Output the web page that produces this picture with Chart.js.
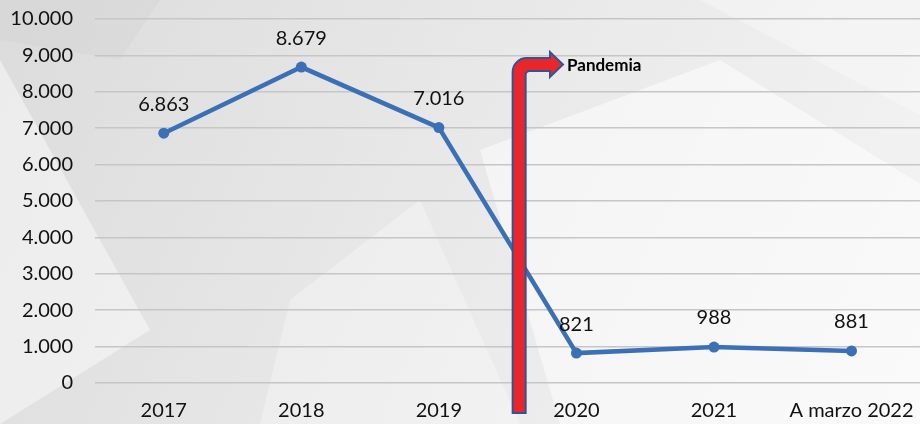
<!DOCTYPE html>
<html lang="es">
<head>
<meta charset="UTF-8">
<title>Pandemia</title>
<script src="https://cdn.jsdelivr.net/npm/chart.js"></script>
<style>
  html, body { margin: 0; padding: 0; }
  body {
    width: 920px; height: 424px; overflow: hidden;
    background: #ececec;
  }
  /* canvas is a bit wider than the window: the x axis keeps ~10px of label padding on the right */
  #wrap { position: relative; width: 920px; height: 424px; overflow: hidden; }
</style>
</head>
<body>
<div id="wrap"><canvas id="chart" width="930" height="424"></canvas></div>
<script>
const categories = ['2017', '2018', '2019', '2020', '2021', 'A marzo 2022'];
const values = [6863, 8679, 7016, 821, 988, 881];
const yTicks = [0, 1000, 2000, 3000, 4000, 5000, 6000, 7000, 8000, 9000, 10000];
const annotationText = 'Pandemia';

const FONT = 'Lato, "Open Sans", sans-serif';

function fmt(v) {
  return String(v).replace(/\B(?=(\d{3})+(?!\d))/g, '.');
}

// soft background shapes
const bgPlugin = {
  id: 'bg',
  beforeDraw(chart) {
    const c = chart.ctx;
    c.save();
    const g = c.createLinearGradient(0, 0, 920, 424);
    g.addColorStop(0, '#dcdcdc');
    g.addColorStop(0.5, '#e9e9e9');
    g.addColorStop(1, '#f4f4f4');
    c.fillStyle = g;
    c.fillRect(0, 0, 930, 424);
    const polys = [
      ['rgba(255,255,255,0.45)', [[0, 60], [150, 330], [0, 424]]],
      ['rgba(255,255,255,0.3)', [[290, 300], [420, 200], [520, 424], [260, 424]]],
      ['rgba(255,255,255,0.5)', [[480, 150], [720, 60], [930, 190], [930, 424], [560, 424]]],
      ['rgba(255,255,255,0.3)', [[700, 0], [930, 0], [930, 120]]],
      ['rgba(200,200,200,0.2)', [[0, 0], [160, 0], [120, 60], [0, 40]]]
    ];
    polys.forEach(([col, pts]) => {
      c.fillStyle = col;
      c.beginPath();
      pts.forEach((p, i) => i ? c.lineTo(p[0], p[1]) : c.moveTo(p[0], p[1]));
      c.closePath();
      c.fill();
    });
    c.restore();
  }
};

const labelPlugin = {
  id: 'valueLabels',
  afterDatasetsDraw(chart) {
    const c = chart.ctx;
    const meta = chart.getDatasetMeta(0);
    c.save();
    c.font = '20px ' + FONT;
    c.fillStyle = '#111';
    c.textAlign = 'center';
    c.textBaseline = 'middle';
    meta.data.forEach((pt, i) => {
      c.fillText(fmt(values[i]), pt.x, pt.y - 29);
    });
    c.restore();
  }
};

// red bent arrow marking the pandemic
const arrowPlugin = {
  id: 'arrow',
  afterDatasetsDraw(chart) {
    const c = chart.ctx;
    const xs = chart.scales.x;
    const left = (xs.getPixelForValue(2) + xs.getPixelForValue(3)) / 2 + 5;
    const w = 13;
    const bottom = 413;
    const top = 58;
    const r = 14;
    const headX = 550, tipX = 563;
    c.save();
    c.beginPath();
    c.moveTo(left, bottom);
    c.lineTo(left, top + r);
    c.arcTo(left, top, left + r, top, r);
    c.lineTo(headX, top);
    c.lineTo(headX, top - 6);
    c.lineTo(tipX, top + w / 2);
    c.lineTo(headX, top + w + 6);
    c.lineTo(headX, top + w);
    c.lineTo(left + w + 4, top + w);
    c.arcTo(left + w, top + w, left + w, top + w + 4, 4);
    c.lineTo(left + w, bottom);
    c.closePath();
    c.fillStyle = '#e8262c';
    c.fill();
    c.lineWidth = 2;
    c.strokeStyle = '#2f5597';
    c.stroke();
    c.font = 'bold 17px ' + FONT;
    c.fillStyle = '#000';
    c.textAlign = 'left';
    c.textBaseline = 'middle';
    c.fillText(annotationText, tipX + 4, top + w / 2 + 1);
    c.restore();
  }
};

new Chart(document.getElementById('chart'), {
  type: 'line',
  data: {
    labels: categories,
    datasets: [{
      data: values,
      borderColor: '#3b6fb6',
      backgroundColor: '#3b6fb6',
      borderWidth: 4.5,
      tension: 0,
      pointRadius: 5.5,
      pointHoverRadius: 5.5,
      pointBackgroundColor: '#3b6fb6',
      pointBorderWidth: 0
    }]
  },
  options: {
    responsive: false,
    animation: false,
    layout: { padding: { top: 19, right: 0, left: 0, bottom: 0 } },
    plugins: {
      legend: { display: false },
      tooltip: { enabled: false }
    },
    scales: {
      x: {
        offset: true,
        grid: { display: false, drawTicks: false },
        border: { display: false },
        ticks: { color: '#111', font: { family: FONT, size: 20 }, padding: 16, maxRotation: 0, autoSkip: false },
        afterFit(axis) { axis.height = 41; }
      },
      y: {
        min: 0,
        max: 10000,
        afterBuildTicks(axis) { axis.ticks = yTicks.map(v => ({ value: v })); },
        grid: { color: '#c6c6c6', lineWidth: 1.5, drawTicks: false },
        border: { display: false },
        ticks: {
          color: '#111',
          font: { family: FONT, size: 20 },
          padding: 22,
          callback: v => fmt(v)
        },
        afterFit(axis) {
          axis.width = 95;
          axis.paddingTop = 0;
          axis.paddingBottom = 0;
        }
      }
    }
  },
  plugins: [bgPlugin, labelPlugin, arrowPlugin]
});
</script>
</body>
</html>
